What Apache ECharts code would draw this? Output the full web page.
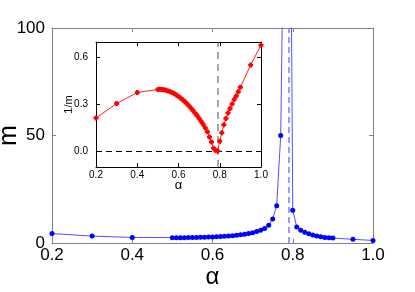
<!DOCTYPE html>
<html>
<head>
<meta charset="utf-8">
<script src="https://cdn.jsdelivr.net/npm/echarts@6/dist/echarts.min.js"></script>
<style>
  html, body { margin: 0; padding: 0; background: #fff; }
  #chart { width: 415px; height: 292px; }
</style>
</head>
<body>
<div id="chart"></div>
<script>
// m(alpha) の本体と 1/m の挿入図

const alphaC = 0.79;

const alpha = [0.2, 0.3, 0.4,
  0.50, 0.51, 0.52, 0.53, 0.54, 0.55, 0.56, 0.57, 0.58, 0.59,
  0.60, 0.61, 0.62, 0.63, 0.64, 0.65, 0.66, 0.67, 0.68, 0.69,
  0.70, 0.71, 0.72, 0.73, 0.74, 0.75, 0.76, 0.77, 0.78, 0.79,
  0.80, 0.81, 0.82, 0.83, 0.84, 0.85, 0.86, 0.87, 0.88, 0.89, 0.90,
  0.95, 1.0];

const mValues = [4.4, 3.2, 2.6,
  2.5, 2.5, 2.5, 2.5, 2.55, 2.6, 2.6, 2.65, 2.7, 2.75,
  2.8, 2.9, 3.0, 3.1, 3.25, 3.4, 3.6, 3.8, 4.1, 4.4,
  4.8, 5.3, 5.9, 6.8, 8.2, 11.2, 17.3, 50, 190, 300,
  15.2, 7.4, 5.9, 5.0, 4.3, 3.7, 3.3, 2.9, 2.6, 2.4, 2.3,
  1.7, 1.2];

const invM = [0.214, 0.306, 0.377,
  0.396, 0.397, 0.396, 0.394, 0.391, 0.387, 0.382, 0.376, 0.369, 0.361,
  0.352, 0.342, 0.331, 0.319, 0.306, 0.292, 0.277, 0.262, 0.246, 0.229,
  0.211, 0.192, 0.172, 0.150, 0.125, 0.092, 0.060, 0.020, 0.005, 0.003,
  0.065, 0.12, 0.17, 0.21, 0.245, 0.275, 0.304, 0.332, 0.355, 0.381, 0.41,
  0.553, 0.68];

const insetTicksY = [0, 0.3, 0.6];

const FONT = 'Liberation Sans, Arial, sans-serif';
const GRAY = '#808080';

function frameAxis(gridIndex, position, color, extra) {
  return Object.assign({
    type: 'value',
    gridIndex: gridIndex,
    position: position,
    nameMoveOverlap: false,
    axisLine: { show: true, onZero: false, lineStyle: { color: color, width: 1 } },
    axisTick: { show: true, inside: true, length: 4, lineStyle: { color: color } },
    axisLabel: { show: false },
    splitLine: { show: false }
  }, extra);
}

const chart = echarts.init(document.getElementById('chart'), null, { renderer: 'canvas' });

const option = {
  animation: false,
  backgroundColor: '#fff',
  textStyle: { fontFamily: FONT },
  grid: [
    { left: 52, right: 42, top: 28, bottom: 49, outerBoundsMode: 'none', containLabel: false },
    { left: 96, right: 154, top: 42, bottom: 125, outerBoundsMode: 'none', containLabel: false,
      show: true, backgroundColor: '#fff', borderWidth: 0, z: 5 }
  ],
  xAxis: [
    frameAxis(0, 'bottom', GRAY, {
      min: 0.2, max: 1.0, interval: 0.2,
      axisLabel: { show: true, color: '#000', fontSize: 17, margin: 4, fontFamily: FONT,
        formatter: v => v.toFixed(1) },
      name: 'α', nameLocation: 'middle', nameGap: 22,
      nameTextStyle: { fontSize: 24, color: '#000', fontFamily: FONT }
    }),
    frameAxis(0, 'top', GRAY, { min: 0.2, max: 1.0, interval: 0.2 }),
    frameAxis(1, 'bottom', '#000', {
      min: 0.2, max: 1.0, interval: 0.2,
      axisLabel: { show: true, color: '#000', fontSize: 10, margin: 3, fontFamily: FONT,
        formatter: v => v.toFixed(1) },
      name: 'α', nameLocation: 'middle', nameGap: 12,
      nameTextStyle: { fontSize: 13, color: '#000', fontFamily: FONT },
      z: 6
    }),
    frameAxis(1, 'top', '#000', { min: 0.2, max: 1.0, interval: 0.2, z: 6 })
  ],
  yAxis: [
    frameAxis(0, 'left', GRAY, {
      min: 0, max: 100, interval: 50,
      axisLabel: { show: true, color: '#000', fontSize: 17, margin: 7, fontFamily: FONT },
      name: 'm', nameLocation: 'middle', nameGap: 30,
      nameTextStyle: { fontSize: 25, color: '#000', fontFamily: FONT }
    }),
    frameAxis(0, 'right', GRAY, { min: 0, max: 100, interval: 50 }),
    frameAxis(1, 'left', '#000', {
      min: -0.1, max: 0.7,
      axisTick: { show: true, inside: true, length: 4, customValues: insetTicksY, lineStyle: { color: '#000' } },
      axisLabel: { show: true, color: '#000', fontSize: 10, margin: 8, fontFamily: FONT,
        customValues: insetTicksY, formatter: v => v.toFixed(1) },
      name: '1/m', nameLocation: 'middle', nameGap: 22,
      nameTextStyle: { fontSize: 11, color: '#000', fontFamily: FONT },
      z: 6
    }),
    frameAxis(1, 'right', '#000', {
      min: -0.1, max: 0.7,
      axisTick: { show: true, inside: true, length: 4, customValues: insetTicksY, lineStyle: { color: '#000' } },
      z: 6
    })
  ],
  series: [
    {
      name: 'm',
      type: 'line',
      xAxisIndex: 0,
      yAxisIndex: 0,
      data: alpha.map((a, i) => [a, mValues[i]]),
      symbol: 'circle',
      symbolSize: 5,
      clip: true,
      lineStyle: { color: '#5050ff', width: 1 },
      itemStyle: { color: '#0000ff' },
      markLine: {
        silent: true,
        symbol: 'none',
        label: { show: false },
        lineStyle: { color: '#7c7cff', type: [6, 4], width: 1.5 },
        data: [{ xAxis: alphaC }]
      }
    },
    {
      name: '1/m',
      type: 'line',
      xAxisIndex: 2,
      yAxisIndex: 2,
      z: 7,
      data: alpha.map((a, i) => [a, invM[i]]),
      symbol: 'path://M2,0H6V2H8V6H6V8H2V6H0V2H2Z',
      symbolSize: 5,
      clip: false,
      lineStyle: { color: '#ff2020', width: 1 },
      itemStyle: { color: '#ff0000' },
      markLine: {
        silent: true,
        symbol: 'none',
        label: { show: false },
        data: [
          { xAxis: alphaC, lineStyle: { color: '#8c8c8c', type: [7, 5], width: 1.5 } },
          { yAxis: 0, lineStyle: { color: '#000', type: [6, 4], width: 1 } }
        ]
      }
    }
  ]
};

chart.setOption(option);
</script>
</body>
</html>
